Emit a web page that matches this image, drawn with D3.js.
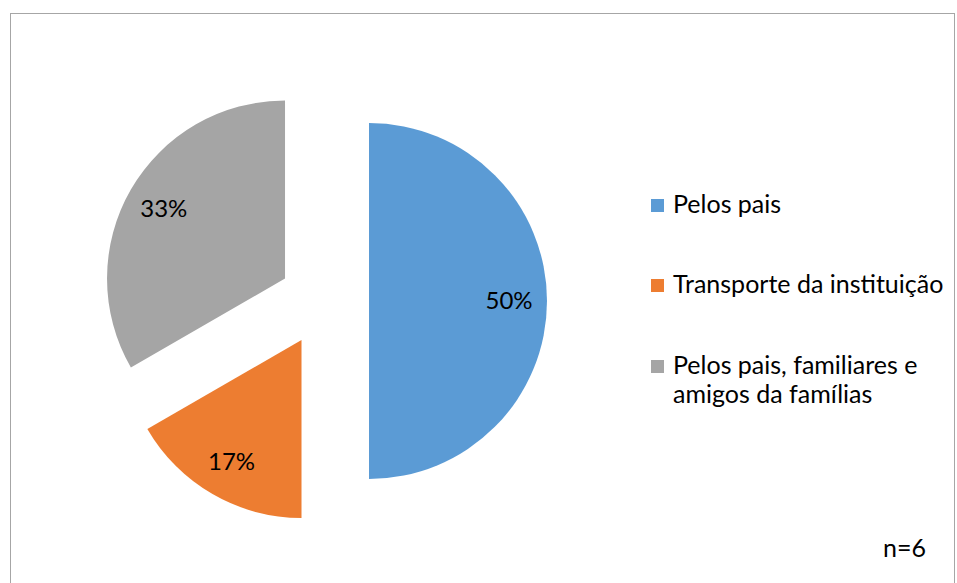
<!DOCTYPE html>
<html>
<head>
<meta charset="utf-8">
<script src="https://cdn.jsdelivr.net/npm/d3@7"></script>
<style>
  body { margin: 0; background: #fff; }
  svg { display: block; font-family: Lato, "Noto Sans", sans-serif; }
</style>
</head>
<body>
<div id="chart"></div>
<script>
// データ
const categories = ["Pelos pais", "Transporte da instituição", "Pelos pais, familiares e amigos da famílias"];
const values = [3, 1, 2];
const colors = ["#5b9bd5", "#ed7d31", "#a5a5a5"];
const legendLines = [["Pelos pais"], ["Transporte da instituição"], ["Pelos pais, familiares e", "amigos da famílias"]];
const noteText = "n=6";

const width = 957, height = 583;
const cx = 324, cy = 301, radius = 178, explode = 45;

const svg = d3.select("#chart").append("svg")
  .attr("width", width)
  .attr("height", height);

// 枠
svg.append("rect")
  .attr("x", 10.5).attr("y", 13.5)
  .attr("width", 944).attr("height", 600)
  .attr("fill", "none")
  .attr("stroke", "#a6a6a6")
  .attr("stroke-width", 1);

const total = d3.sum(values);
const pie = d3.pie().sort(null).value(d => d);
const arcs = pie(values);

const arc = d3.arc().innerRadius(0).outerRadius(radius);
const labelArc = d3.arc().innerRadius(280).outerRadius(0);

const g = svg.append("g").attr("transform", `translate(${cx},${cy})`);

const slice = g.selectAll(".slice")
  .data(arcs)
  .enter()
  .append("g")
  .attr("class", "slice")
  .attr("transform", d => {
    const a = (d.startAngle + d.endAngle) / 2;
    return `translate(${Math.sin(a) * explode},${-Math.cos(a) * explode})`;
  });

slice.append("path")
  .attr("d", arc)
  .attr("fill", (d, i) => colors[i]);

slice.append("text")
  .attr("transform", d => `translate(${labelArc.centroid(d)})`)
  .attr("text-anchor", "middle")
  .attr("dy", "0.35em")
  .style("font-size", "24px")
  .style("fill", "#000")
  .text(d => Math.round(d.data / total * 100) + "%");

// 凡例
const legendY = [213, 293, 374];
const legend = svg.append("g").attr("transform", "translate(651,0)");

legendLines.forEach((lines, i) => {
  legend.append("rect")
    .attr("x", 0).attr("y", legendY[i] - 14)
    .attr("width", 13).attr("height", 13)
    .attr("fill", colors[i]);
  const t = legend.append("text")
    .attr("x", 22).attr("y", legendY[i])
    .style("font-size", "25px")
    .style("fill", "#000");
  lines.forEach((line, j) => {
    t.append("tspan").attr("x", 22).attr("dy", j === 0 ? 0 : 29).text(line);
  });
});

svg.append("text")
  .attr("x", 883).attr("y", 557)
  .style("font-size", "25px")
  .style("fill", "#000")
  .text(noteText);
</script>
</body>
</html>
